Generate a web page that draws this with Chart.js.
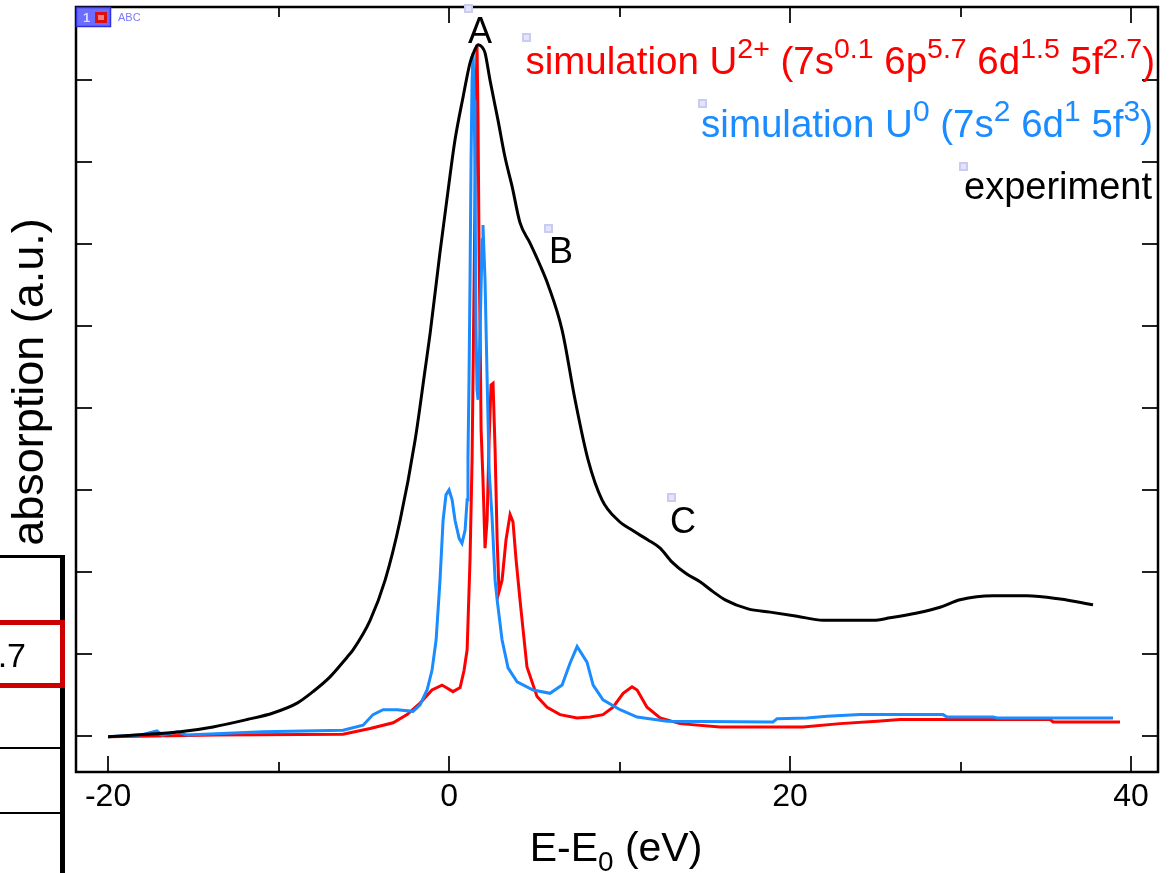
<!DOCTYPE html>
<html>
<head>
<meta charset="utf-8">
<script src="https://cdn.jsdelivr.net/npm/chart.js@4.4.1/dist/chart.umd.min.js"></script>
<style>
  html, body { margin: 0; padding: 0; background: #fff; }
  #wrap { width: 1169px; height: 873px; }
</style>
</head>
<body>
<div id="wrap"><canvas id="chartCanvas" width="1169" height="873"></canvas></div>
<script>
// experiment (black)
const expX = [-20.0, -17.71, -15.78, -13.84, -11.85, -10.32, -8.91, -7.98, -6.98, -5.98, -5.63, -4.63, -3.75, -2.87, -1.99, -1.41, -1.11, -0.53, 0.06, 0.35, 0.82, 1.23, 1.47, 1.70, 1.94, 2.11, 2.40, 2.87, 3.28, 3.70, 4.16, 4.75, 5.34, 5.81, 6.63, 7.39, 8.15, 8.97, 9.91, 10.73, 11.67, 12.38, 13.08, 13.90, 14.72, 15.48, 16.19, 17.54, 18.83, 20.41, 21.94, 24.87, 25.87, 27.45, 28.80, 29.97, 31.91, 33.90, 35.84, 37.77];
const expY = [-0.01, 0.02, 0.05, 0.11, 0.20, 0.28, 0.40, 0.54, 0.72, 0.96, 1.05, 1.41, 1.90, 2.63, 3.61, 4.46, 4.91, 5.90, 6.84, 7.27, 7.79, 8.21, 8.35, 8.43, 8.40, 8.33, 8.00, 7.51, 7.06, 6.70, 6.26, 6.01, 5.74, 5.50, 4.95, 4.10, 3.37, 2.88, 2.63, 2.51, 2.39, 2.29, 2.12, 1.98, 1.88, 1.76, 1.66, 1.55, 1.51, 1.46, 1.41, 1.41, 1.44, 1.50, 1.57, 1.66, 1.71, 1.71, 1.67, 1.60];

// simulation U2+ (red)
const u2X = [-20.0, -13.61, -6.22, -4.63, -3.28, -2.46, -1.70, -1.00, -0.41, 0.23, 0.65, 0.88, 1.06, 1.23, 1.35, 1.47, 1.58, 1.64, 1.70, 1.76, 1.82, 1.88, 1.99, 2.11, 2.23, 2.35, 2.46, 2.58, 2.70, 2.82, 2.93, 3.11, 3.34, 3.58, 3.75, 3.93, 4.16, 4.57, 5.16, 5.75, 6.51, 7.51, 8.27, 9.03, 9.62, 10.21, 10.73, 11.03, 11.61, 12.38, 13.55, 15.89, 20.76, 22.93, 25.10, 26.45, 35.25, 35.43, 39.35];
const u2Y = [-0.01, 0.01, 0.02, 0.09, 0.16, 0.26, 0.40, 0.56, 0.62, 0.54, 0.59, 0.80, 1.05, 2.15, 3.37, 5.56, 7.76, 8.43, 7.51, 5.93, 4.95, 3.73, 3.12, 2.29, 2.63, 3.61, 4.28, 4.30, 3.49, 2.39, 1.76, 1.90, 2.39, 2.70, 2.61, 2.15, 1.66, 0.84, 0.48, 0.35, 0.26, 0.22, 0.23, 0.26, 0.35, 0.52, 0.60, 0.56, 0.35, 0.22, 0.15, 0.11, 0.11, 0.15, 0.18, 0.20, 0.20, 0.17, 0.17];

// simulation U0 (blue)
const u0X = [-20.0, -18.12, -17.13, -16.83, -15.95, -15.37, -10.91, -6.22, -5.04, -4.46, -3.87, -3.05, -2.11, -1.70, -1.29, -1.00, -0.76, -0.53, -0.35, -0.18, 0.00, 0.18, 0.35, 0.59, 0.76, 0.94, 1.06, 1.11, 1.17, 1.23, 1.29, 1.35, 1.41, 1.47, 1.52, 1.58, 1.64, 1.70, 1.82, 1.94, 1.99, 2.11, 2.23, 2.35, 2.52, 2.70, 2.82, 3.11, 3.46, 3.99, 4.93, 5.92, 6.63, 7.10, 7.51, 8.09, 8.45, 9.03, 10.03, 11.03, 12.79, 19.00, 19.24, 20.99, 22.17, 24.11, 28.97, 29.21, 31.91, 32.14, 38.94];
const u0Y = [-0.01, 0.01, 0.06, 0.01, 0.05, 0.01, 0.05, 0.07, 0.13, 0.26, 0.32, 0.32, 0.30, 0.38, 0.56, 0.80, 1.17, 1.90, 2.63, 2.94, 3.00, 2.88, 2.63, 2.41, 2.35, 2.51, 2.88, 3.40, 4.34, 5.56, 7.02, 8.00, 8.33, 7.76, 6.90, 4.95, 4.22, 4.10, 4.95, 6.05, 6.23, 5.56, 4.38, 3.24, 2.67, 1.90, 1.66, 1.17, 0.83, 0.66, 0.56, 0.52, 0.62, 0.89, 1.09, 0.90, 0.62, 0.44, 0.32, 0.23, 0.18, 0.17, 0.21, 0.22, 0.24, 0.26, 0.26, 0.23, 0.23, 0.22, 0.22];

const xTicks = [-20, 0, 20, 40];
const xTickLabels = ["-20", "0", "20", "40"];
const xMinorTicks = [-10, 10, 30];
const yTicks = [0, 1, 2, 3, 4, 5, 6, 7, 8];

const peakNames = ["A", "B", "C"];
const peakAtX = [1.82, 6.57, 13.72];
const peakAtY = [8.45, 5.77, 2.48];

const u2Label = [["simulation U"], ["2+", "sup"], [" (7s"], ["0.1", "sup"], [" 6p"], ["5.7", "sup"], [" 6d"], ["1.5", "sup"], [" 5f"], ["2.7", "sup"], [")"]];
const u0Label = [["simulation U"], ["0", "sup"], [" (7s"], ["2", "sup"], [" 6d"], ["1", "sup"], [" 5f"], ["3", "sup"], [")"]];
const expLabel = [["experiment"]];
const xTitle = [["E-E"], ["0", "sub"], [" (eV)"]];
const yTitle = "absorption (a.u.)";

const FONT = "'Liberation Sans', Arial, sans-serif";
Chart.defaults.font.family = FONT;

const pts = (xs, ys) => xs.map((x, i) => ({ x: x, y: ys[i] }));

function richWidth(ctx, parts, size, small) {
  let w = 0;
  parts.forEach(([t, k]) => {
    ctx.font = (k ? size * small : size) + "px " + FONT;
    w += ctx.measureText(t).width;
  });
  return w;
}

function drawRich(ctx, parts, x, base, size, color, align, small = 0.7) {
  const w = richWidth(ctx, parts, size, small);
  let cx = align === "right" ? x - w : align === "center" ? x - w / 2 : x;
  ctx.fillStyle = color;
  ctx.textAlign = "left";
  ctx.textBaseline = "alphabetic";
  parts.forEach(([t, k]) => {
    ctx.font = (k ? size * small : size) + "px " + FONT;
    const dy = k === "sup" ? -0.42 * size : k === "sub" ? 0.24 * size : 0;
    ctx.fillText(t, cx, base + dy);
    cx += ctx.measureText(t).width;
  });
}

// frame, inward ticks, labels and the bits of window clutter around the graph
const decorations = {
  id: "decorations",
  afterDraw(chart) {
    const { ctx, chartArea: a, scales: { x, y } } = chart;
    ctx.save();

    // ticks
    ctx.strokeStyle = "#222";
    ctx.lineWidth = 2;
    ctx.beginPath();
    xTicks.forEach(v => {
      const px = Math.round(x.getPixelForValue(v));
      ctx.moveTo(px, a.bottom); ctx.lineTo(px, a.bottom - 16);
      ctx.moveTo(px, a.top); ctx.lineTo(px, a.top + 16);
    });
    xMinorTicks.forEach(v => {
      const px = Math.round(x.getPixelForValue(v));
      ctx.moveTo(px, a.bottom); ctx.lineTo(px, a.bottom - 10);
      ctx.moveTo(px, a.top); ctx.lineTo(px, a.top + 10);
    });
    yTicks.forEach(v => {
      const py = Math.round(y.getPixelForValue(v));
      ctx.moveTo(a.left, py); ctx.lineTo(a.left + 16, py);
      ctx.moveTo(a.right, py); ctx.lineTo(a.right - 16, py);
    });
    ctx.stroke();

    // frame
    ctx.strokeStyle = "#000";
    ctx.lineWidth = 2.5;
    ctx.strokeRect(a.left, a.top, a.right - a.left, a.bottom - a.top);

    // axis titles
    drawRich(ctx, xTitle, 616, 861, 41, "#000", "center", 0.68);
    ctx.save();
    ctx.translate(43, 382);
    ctx.rotate(-Math.PI / 2);
    ctx.font = "45px " + FONT;
    ctx.fillStyle = "#000";
    ctx.textAlign = "center";
    ctx.textBaseline = "alphabetic";
    ctx.fillText(yTitle, 0, 0);
    ctx.restore();

    // peak letters
    ctx.font = "36px " + FONT;
    ctx.fillStyle = "#000";
    ctx.textAlign = "center";
    ctx.textBaseline = "alphabetic";
    peakNames.forEach((n, i) => {
      ctx.fillText(n, x.getPixelForValue(peakAtX[i]), y.getPixelForValue(peakAtY[i]));
    });

    // legend texts
    drawRich(ctx, u2Label, 1155, 74, 38.5, "#ff0000", "right", 0.74);
    drawRich(ctx, u0Label, 1153, 137, 38.5, "#1a8cff", "right", 0.78);
    drawRich(ctx, expLabel, 1152, 199, 38, "#000", "right");

    // little object handles
    [[464, 4], [522, 33], [544, 224], [667, 493], [698, 99], [959, 162]].forEach(([hx, hy]) => {
      ctx.fillStyle = "#c9cbf3";
      ctx.fillRect(hx, hy, 9, 9);
      ctx.fillStyle = "#e4e5fa";
      ctx.fillRect(hx + 2, hy + 2, 5, 5);
    });

    // layer badge in the corner
    ctx.fillStyle = "#6c6cff";
    ctx.fillRect(76, 7, 35, 20);
    ctx.strokeStyle = "#2f2fe0";
    ctx.lineWidth = 1.5;
    ctx.strokeRect(76.5, 7.5, 34, 19);
    ctx.fillStyle = "#d8d8ff";
    ctx.font = "bold 13px " + FONT;
    ctx.textAlign = "left";
    ctx.textBaseline = "middle";
    ctx.fillText("1", 83, 18);
    ctx.fillStyle = "#dd1010";
    ctx.fillRect(95, 12, 12, 11);
    ctx.fillStyle = "#f08080";
    ctx.fillRect(98, 15, 6, 5);
    ctx.fillStyle = "#7b7bff";
    ctx.font = "11px " + FONT;
    ctx.fillText("ABC", 118, 18);

    // piece of a table window on the left
    ctx.fillStyle = "#000";
    ctx.fillRect(0, 555, 65, 3);
    ctx.fillRect(60, 555, 5, 318);
    ctx.fillRect(0, 747, 60, 2);
    ctx.fillRect(0, 812, 60, 2);
    ctx.fillStyle = "#cc0000";
    ctx.fillRect(0, 620, 65, 5);
    ctx.fillRect(0, 683, 65, 5);
    ctx.fillRect(60, 620, 5, 68);
    ctx.fillStyle = "#000";
    ctx.font = "34px " + FONT;
    ctx.textAlign = "right";
    ctx.textBaseline = "alphabetic";
    ctx.fillText(".7", 26, 667);

    ctx.restore();
  }
};

const ctx = document.getElementById("chartCanvas").getContext("2d");

new Chart(ctx, {
  type: "line",
  data: {
    datasets: [
      { label: "experiment", data: pts(expX, expY), borderColor: "#000000", borderWidth: 3, cubicInterpolationMode: "monotone" },
      { label: "simulation U0", data: pts(u0X, u0Y), borderColor: "#1a8cff", borderWidth: 3 },
      { label: "simulation U2+", data: pts(u2X, u2Y), borderColor: "#ff0000", borderWidth: 3 },
    ],
  },
  options: {
    responsive: false,
    animation: false,
    devicePixelRatio: 1,
    layout: { padding: { top: 7, right: 11, left: 0, bottom: 0 } },
    elements: { point: { radius: 0 }, line: { tension: 0, fill: false } },
    plugins: {
      legend: { display: false },
      tooltip: { enabled: false },
    },
    scales: {
      x: {
        type: "linear",
        min: -21.88,
        max: 41.58,
        afterBuildTicks: s => { s.ticks = xTicks.map(v => ({ value: v })); },
        afterFit: s => { s.height = 101; },
        grid: { display: false, drawTicks: false },
        border: { display: false },
        ticks: {
          padding: 6,
          color: "#000",
          maxRotation: 0,
          minRotation: 0,
          autoSkip: false,
          font: { size: 32 },
          callback: (v, i) => xTickLabels[i],
        },
      },
      y: {
        min: -0.44,
        max: 8.89,
        afterFit: s => { s.width = 76; },
        grid: { display: false, drawTicks: false },
        border: { display: false },
        ticks: { display: false },
      },
    },
  },
  plugins: [decorations],
});
</script>
</body>
</html>
